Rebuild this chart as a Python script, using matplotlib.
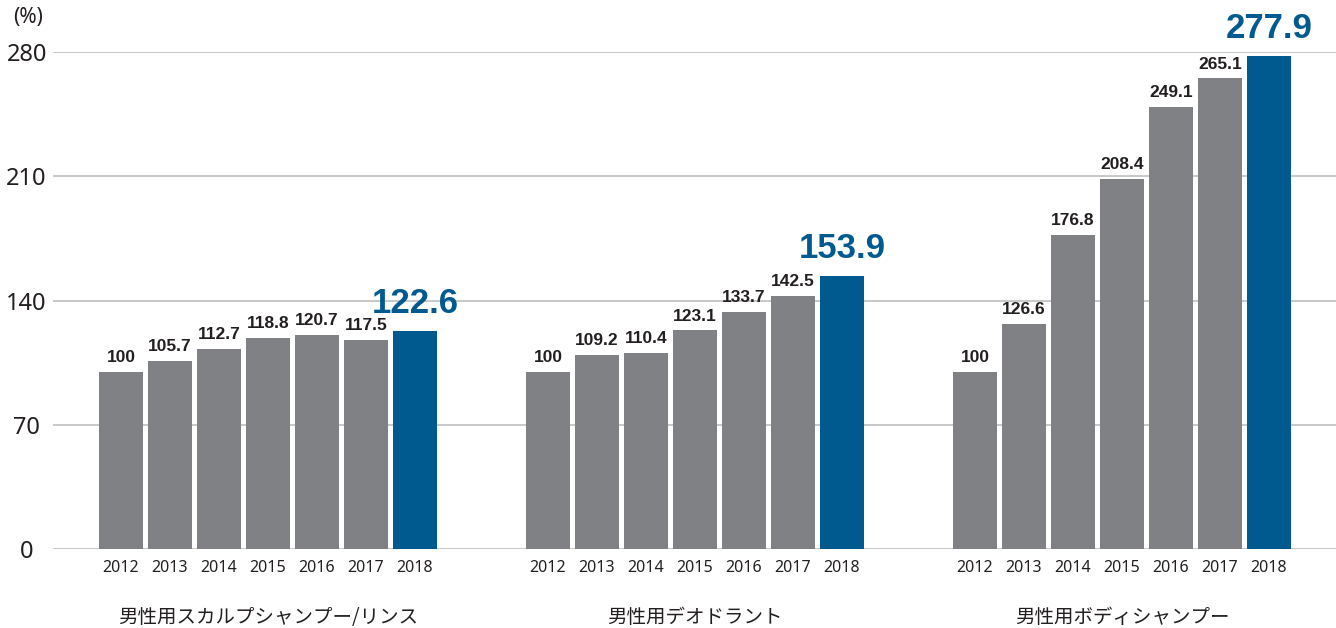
import numpy as np
import matplotlib.pyplot as plt

plt.rcParams["font.family"] = ["Noto Sans", "Noto Sans CJK JP", "DejaVu Sans"]

# Data
years = ["2012", "2013", "2014", "2015", "2016", "2017", "2018"]
categories = ["男性用スカルプシャンプー/リンス", "男性用デオドラント", "男性用ボディシャンプー"]
scalp = [100, 105.7, 112.7, 118.8, 120.7, 117.5, 122.6]
deodorant = [100, 109.2, 110.4, 123.1, 133.7, 142.5, 153.9]
body = [100, 126.6, 176.8, 208.4, 249.1, 265.1, 277.9]
series = [scalp, deodorant, body]
yticks = [0, 70, 140, 210, 280]

grey = "#808185"
blue = "#005a8f"
text_col = "#231f20"

fig = plt.figure(figsize=(13.36, 6.28), dpi=100)
ax = fig.add_axes([53 / 1336, 79 / 628, 1283 / 1336, 497 / 628])

group_step = 427 / 49
bar_w = 44 / 49

tick_pos = []
tick_lab = []
for g, vals in enumerate(series):
    x = g * group_step + np.arange(len(vals))
    colors = [grey] * (len(vals) - 1) + [blue]
    ax.bar(x, vals, width=bar_w, color=colors, zorder=3)
    for i, (xi, v) in enumerate(zip(x, vals)):
        last = i == len(vals) - 1
        ax.annotate(f"{v:g}", (xi, v), xytext=(0, 8 if last else 5),
                    textcoords="offset points", ha="center", va="bottom",
                    fontsize=25 if last else 12.5, fontweight="bold",
                    family="Liberation Sans",
                    color=blue if last else text_col)
    ax.text(x.mean(), -0.137, categories[g], transform=ax.get_xaxis_transform(),
            ha="center", va="center", fontsize=14, color=text_col,
            family=["Noto Sans CJK JP", "DejaVu Sans"])
    tick_pos.extend(x)
    tick_lab.extend(years)

ax.set_xlim(-68 / 49, 1215 / 49)
ax.set_ylim(0, 280)

ax.set_xticks(tick_pos)
ax.set_xticklabels(tick_lab, fontsize=11.5, color=text_col)
ax.tick_params(axis="x", length=0, pad=8)

ax.set_yticks(yticks)
ax.set_yticklabels([str(t) for t in yticks], fontsize=17, color=text_col, ha="center")
ax.tick_params(axis="y", length=0, pad=19)

ax.yaxis.grid(True, color="#c8c8c8", linewidth=1.4, zorder=0)
ax.set_axisbelow(True)
for s in ax.spines.values():
    s.set_visible(False)

fig.text(28 / 1336, 1 - 18 / 628, "(%)", ha="center", va="center",
         fontsize=15, color=text_col)

fig.savefig("out.png", dpi=100)
